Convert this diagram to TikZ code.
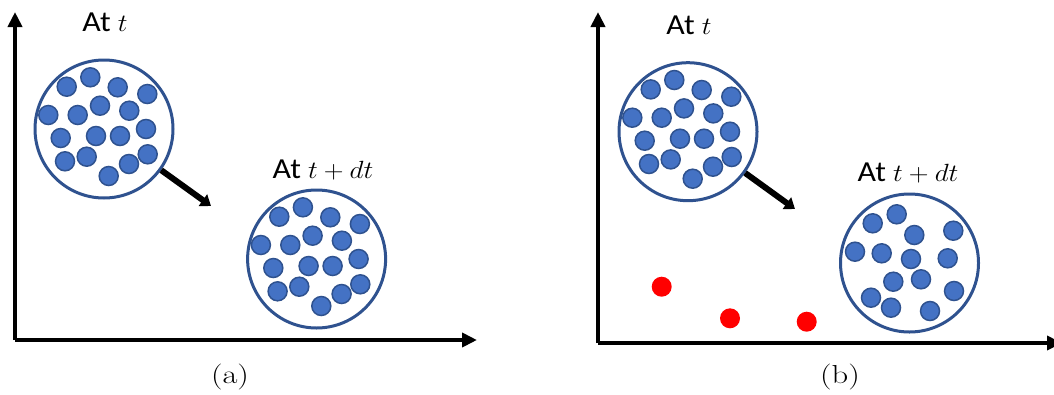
\documentclass[tikz,border=0pt]{standalone}
\usepackage{fontspec}
\newfontfamily\calib{Carlito}
\usetikzlibrary{arrows.meta}
\definecolor{dotfill}{HTML}{4472C4}
\definecolor{dotline}{HTML}{2F528F}
\newcommand\labstretch[1]{\scalebox{1.1}[1]{#1}}
\newcommand\capstretch[1]{\scalebox{1.25}[1]{#1}}
\tikzset{
  dot/.style={circle,fill=dotfill,draw=dotline,line width=1.5pt,minimum size=19pt,inner sep=0pt},
  redspot/.style={circle,fill=red,minimum size=20pt,inner sep=0pt},
  bigcirc/.style={circle,draw=dotline,line width=3pt,minimum size=138pt,inner sep=0pt},
  axis/.style={line width=4pt,-{Triangle[length=15pt,width=14pt]}},
  move/.style={line width=6pt,-{Triangle[length=10pt,width=14pt]}},
  lab/.style={font=\calib\fontsize{29}{32}\selectfont,anchor=base},
  captext/.style={font=\fontsize{26}{30}\selectfont}
}
\begin{document}
\begin{tikzpicture}[x=1pt,y=-1pt]
\useasboundingbox (0,0) rectangle (1054,394);
% axes
\coordinate (o1) at (15,340);
\coordinate (y1) at (15,12);
\coordinate (x1) at (477,340);
\draw[axis] (o1) -- (y1);
\draw[axis] (o1) -- (x1);
\coordinate (o2) at (598,343);
\coordinate (y2) at (598,12);
\coordinate (x2) at (1062,343);
\draw[axis] (o2) -- (y2);
\draw[axis] (o2) -- (x2);
% big circles
\node[bigcirc] (c1) at (104,129) {};
\node[bigcirc] (c2) at (316.6,259) {};
\node[bigcirc] (c3) at (688,131.7) {};
\node[bigcirc] (c4) at (909.5,263) {};
% dots pattern (circle 1 coordinates)
\foreach \x/\y [count=\i] in {66.7/86.7,90.3/77.3,117.7/87.3,147.3/94,48.3/115,77.7/115,100/105.7,129.3/110.7,60.7/138,96/136,120/136,146/129,65/161.3,86.7/156.7,108.7/176,129/164,147.7/154.3}{
  \node[dot] (a\i) at (\x,\y) {};
  \node[dot] (b\i) at (\x+212.6,\y+130) {};
  \node[dot] (p\i) at (\x+584,\y+2.7) {};
}
\foreach \x/\y [count=\i] in {872.7/223.3,896.7/214.3,914.3/235,953.3/230.7,855/251.7,881.7/253.3,911/259,947.7/258.3,893.3/281.7,921/279.3,871/297.7,891/307.7,930/311,954/291}{
  \node[dot] (q\i) at (\x,\y) {};
}
% red dots
\node[redspot] (r1) at (661.7,286.7) {};
\node[redspot] (r2) at (730,318.3) {};
\node[redspot] (r3) at (806.7,321.7) {};
% motion arrows
\coordinate (e1) at (211,206);
\coordinate (e2) at (795,209);
\draw[move] (c1) -- (e1);
\draw[move] (c3) -- (e2);
% labels
\node[lab] (l1) at (105,31) {\labstretch{At $t$}};
\node[lab] (l2) at (323,178) {\labstretch{At $t+dt$}};
\node[lab] (l3) at (689,34) {\labstretch{At $t$}};
\node[lab] (l4) at (908,181) {\labstretch{At $t+dt$}};
\node[captext] (ca) at (230,377) {\capstretch{(a)}};
\node[captext] (cb) at (840,377) {\capstretch{(b)}};
\end{tikzpicture}
\end{document}
